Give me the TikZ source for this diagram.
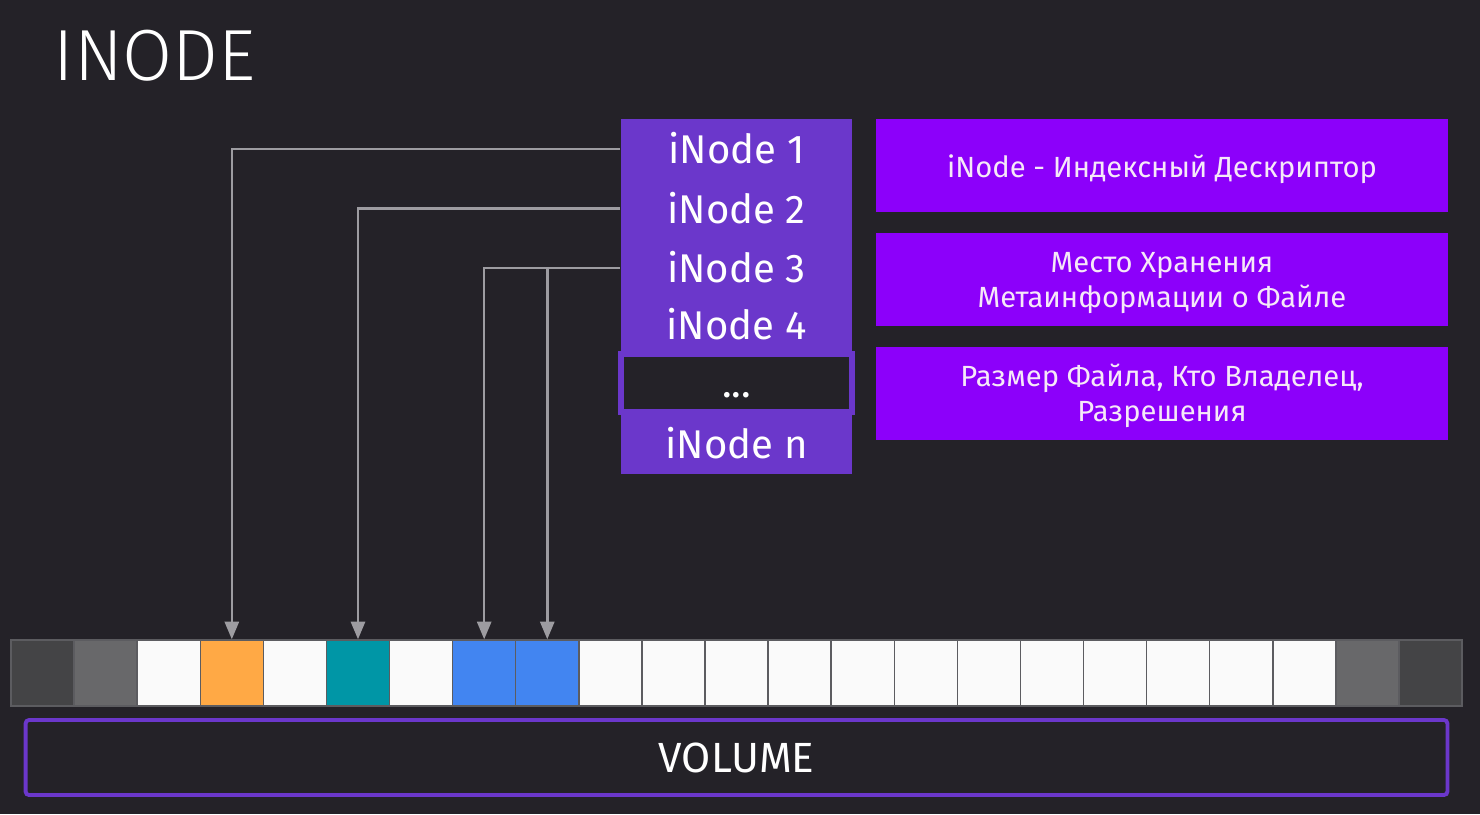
\documentclass[tikz,border=0pt]{standalone}
\usepackage{fontspec}
\setmainfont{Fira Sans}
\newfontfamily\titlefont{Fira Sans Light}
\usetikzlibrary{arrows.meta}
\definecolor{bgdark}{HTML}{242228}
\definecolor{inodepurple}{HTML}{6B37CB}
\definecolor{descpurple}{HTML}{8C00FA}
\definecolor{desctext}{HTML}{F6E8F8}
\definecolor{linkgray}{HTML}{9D9CA1}
\definecolor{blockline}{HTML}{5C5C60}
\definecolor{blockdark}{HTML}{444446}
\definecolor{blockgray}{HTML}{68686A}
\definecolor{blockwhite}{HTML}{FAFAFA}
\definecolor{blockorange}{HTML}{FFA945}
\definecolor{blockteal}{HTML}{0096A6}
\definecolor{blockblue}{HTML}{4285F1}
\tikzset{
  cell/.style={fill=inodepurple, text=white, minimum width=2.31cm, minimum height=0.6cm,
    inner sep=0pt, text height=0.29cm, text depth=0pt, font=\fontsize{11.4}{14}\selectfont},
  gapcell/.style={cell, fill=bgdark, draw=inodepurple, line width=1.8pt, minimum height=0.58cm},
  desc/.style={fill=descpurple, text=desctext, minimum width=5.72cm, minimum height=0.93cm,
    align=center, inner sep=0pt, text depth=0pt, font=\fontsize{8.3}{9.7}\selectfont},
  blockcell/.style={minimum width=0.631cm, minimum height=0.66cm, inner sep=0pt,
    draw=blockline, line width=0.4pt},
  link/.style={draw=linkgray, line width=0.7pt}
}
\begin{document}
\begin{tikzpicture}[x=0.01cm, y=-0.01cm, >={Triangle[length=5pt,width=4pt]}]
            \useasboundingbox (0,0) rectangle (1480,814);
            \fill[bgdark] (0,0) rectangle (1480,814);
            \node[text=white, anchor=base west, inner sep=0pt,
              font=\titlefont\fontsize{20.6}{24}\selectfont] (title) at (53,80) {INODE};
            \node[cell] (c1) at (736.5,149) {iNode 1};
            \node[cell] (c2) at (736.5,208.5) {iNode 2};
            \node[cell] (c3) at (736.5,268) {iNode 3};
            \node[cell, minimum height=0.56cm] (c4) at (736.5,325) {iNode 4};
            \node[cell, minimum height=0.61cm] (cn) at (736.5,443.5) {iNode n};
            \node[gapcell] (gap) at (736.5,383) {...};
            \node[desc, text height=0.23cm] (d1) at (1162,165.5) {iNode - Индексный Дескриптор};
            \node[desc, text height=0.55cm] (d2) at (1162,279.5) {Место Хранения\\Метаинформации о Файле};
            \node[desc, text height=0.55cm] (d3) at (1162,393.5) {Размер Файла, Кто Владелец,\\Разрешения};
            \foreach \col [count=\i] in {blockdark,blockgray,blockwhite,blockorange,blockwhite,
              blockteal,blockwhite,blockblue,blockblue,blockwhite,blockwhite,blockwhite,
              blockwhite,blockwhite,blockwhite,blockwhite,blockwhite,blockwhite,blockwhite,
              blockwhite,blockwhite,blockgray,blockdark}
              \node[blockcell, fill=\col] (b\i) at ({11+(\i-0.5)*63.09},673) {};
            \draw[link,->] (c1.west) -| (b4.north);
            \draw[link,->] (c2.west) -| (b6.north);
            \draw[link,->] (c3.west) -| (b8.north);
            \coordinate (split) at (c3.west -| b9.north);
            \draw[link,->] (split) -- (b9.north);
            \node[draw=inodepurple, line width=1.1pt, rounded corners=1pt, minimum width=14.21cm,
              minimum height=0.75cm, text=white, font=\fontsize{12}{15}\selectfont] (volume)
              at (736.5,757.5) {VOLUME};
\end{tikzpicture}
\end{document}
